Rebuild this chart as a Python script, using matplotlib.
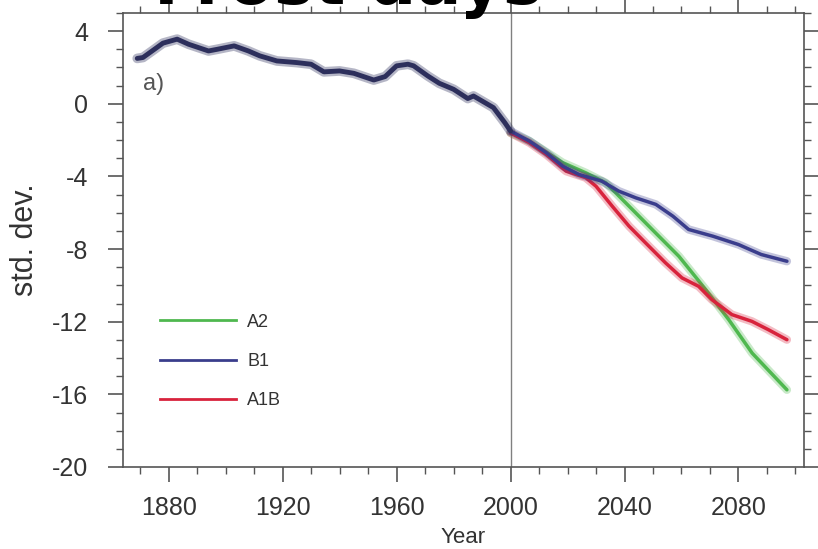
import matplotlib.pyplot as plt
from matplotlib.lines import Line2D
from matplotlib.ticker import MultipleLocator

# historical run (20C)
hist_years = [1869, 1871, 1875, 1878, 1883, 1887, 1894, 1897, 1903, 1908, 1912, 1918,
              1925, 1930, 1934.5, 1940, 1945, 1952, 1956, 1960, 1964, 1966, 1971, 1975,
              1980, 1985, 1987, 1994, 1998, 2000]
hist_vals = [2.5, 2.55, 3.0, 3.34, 3.56, 3.28, 2.91, 3.0, 3.19, 2.91, 2.64, 2.36,
             2.27, 2.18, 1.76, 1.81, 1.68, 1.31, 1.5, 2.09, 2.18, 2.09, 1.53, 1.13,
             0.8, 0.29, 0.43, -0.21, -1.04, -1.5]

# scenarios
b1_years = [2000, 2006.6, 2012.5, 2018.3, 2024, 2032, 2038, 2044, 2051, 2057, 2062.5,
            2071, 2080, 2088, 2097]
b1_vals = [-1.5, -2.05, -2.69, -3.43, -3.89, -4.26, -4.81, -5.18, -5.54, -6.19, -6.92,
           -7.29, -7.75, -8.30, -8.67]

a2_years = [2000, 2006.6, 2018.3, 2026.4, 2033.4, 2041.6, 2050.9, 2059.1, 2068.5,
            2076.6, 2084.8, 2097]
a2_vals = [-1.6, -2.05, -3.24, -3.80, -4.35, -5.64, -7.11, -8.40, -10.23, -11.89,
           -13.73, -15.75]

a1b_years = [2000, 2006.6, 2012.5, 2019.5, 2026.4, 2030, 2035.7, 2041.6, 2047.4, 2054.4,
             2060.2, 2066, 2070.7, 2077.7, 2084.7, 2090.5, 2097]
a1b_vals = [-1.6, -2.14, -2.79, -3.71, -4.07, -4.54, -5.64, -6.74, -7.66, -8.76,
            -9.59, -10.05, -10.79, -11.61, -11.98, -12.44, -12.99]

labels = ['A2', 'B1', 'A1B']
colors = {'A2': '#4fb84f', 'B1': '#3a3d8c', 'A1B': '#d8233c'}
hist_color = '#2d2f5c'

plt.rcParams['font.family'] = ['Liberation Sans', 'DejaVu Sans']
plt.rcParams['axes.unicode_minus'] = False

fig = plt.figure(figsize=(8.18, 5.49), dpi=100)
ax = fig.add_axes([0.1504, 0.1494, 0.8325, 0.8269])

# scenario curves, a light wide line underneath stands in for the spread
for yrs, vals, name in [(a2_years, a2_vals, 'A2'), (a1b_years, a1b_vals, 'A1B'),
                        (b1_years, b1_vals, 'B1')]:
    ax.plot(yrs, vals, color=colors[name], lw=6, alpha=0.3, solid_capstyle='round')
    ax.plot(yrs, vals, color=colors[name], lw=2.5, solid_capstyle='round')

ax.plot(hist_years, hist_vals, color=hist_color, lw=7, alpha=0.35, solid_capstyle='round')
ax.plot(hist_years, hist_vals, color=hist_color, lw=3.5, solid_capstyle='round')

ax.axvline(2000, color='#808080', lw=1, zorder=0)

ax.set_xlim(1864, 2103)
ax.set_ylim(-20, 5)
ax.xaxis.set_minor_locator(MultipleLocator(10))
ax.yaxis.set_minor_locator(MultipleLocator(1))
ax.set_xticks([1880, 1920, 1960, 2000, 2040, 2080])
ax.set_yticks([4, 0, -4, -8, -12, -16, -20])

for s in ax.spines.values():
    s.set_color('#555555')
    s.set_linewidth(1.2)
ax.tick_params(which='both', direction='out', top=True, right=True, color='#555555',
               labelcolor='#333333', labelsize=18)
ax.tick_params(which='major', length=11, width=1.2)
ax.tick_params(which='minor', length=5, width=1)
ax.tick_params(axis='x', pad=10)
ax.tick_params(axis='y', pad=14)

ax.set_ylabel('std. dev.', fontsize=22, color='#333333')
ax.yaxis.set_label_coords(-0.122, 0.5)
ax.set_xlabel('Year', fontsize=16, color='#333333')
ax.xaxis.set_label_coords(0.5, -0.133)
ax.xaxis.label.set_va('top')

ax.text(0.029, 0.8436, 'a)', transform=ax.transAxes, fontsize=17, color='#555555',
        va='center', ha='left')

handles = [Line2D([], [], color=colors[n], lw=2) for n in labels]
ax.legend(handles, labels, loc='upper left', bbox_to_anchor=(0.031, 0.3736),
          frameon=False, fontsize=13, handlelength=4.2, handletextpad=0.6,
          labelspacing=1.24, labelcolor='#333333')

fig.text(0.4254, 0.9925, 'Frost days', fontsize=48, fontweight='bold',
         family='DejaVu Sans', ha='center', va='baseline', color='black')

fig.savefig('out.png', dpi=100)
